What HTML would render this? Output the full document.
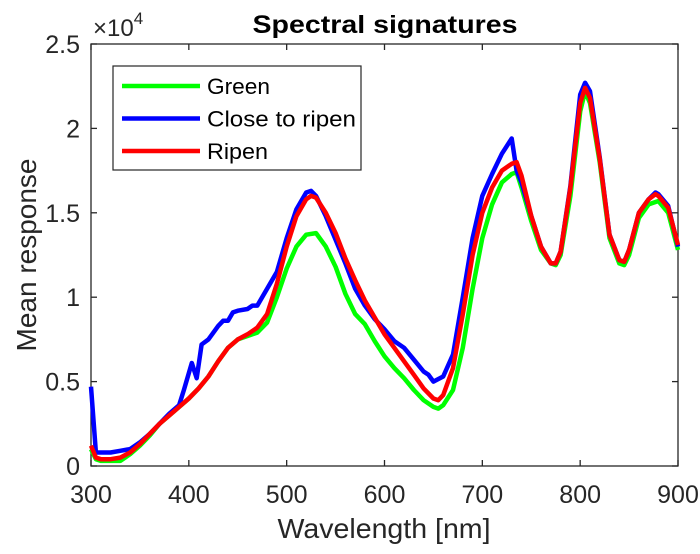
<!DOCTYPE html>
<html><head><meta charset="utf-8"><style>
body{margin:0;background:#fff;}
svg text{font-family:"Liberation Sans",Arial,sans-serif;}
</style></head><body>
<svg id="chart" width="700" height="549" viewBox="0 0 700 549" xmlns="http://www.w3.org/2000/svg"></svg>
<script>
const greenW=[300,305,310,320,330,340,350,360,370,380,390,400,410,420,430,440,450,460,470,480,490,500,510,520,530,540,550,560,570,580,590,600,610,620,630,640,650,655,660,670,680,690,700,710,720,730,735,740,750,760,770,775,780,790,800,805,810,820,830,840,845,850,860,870,880,890,900];
const greenV=[0.1,0.04,0.03,0.03,0.03,0.07,0.12,0.18,0.25,0.3,0.35,0.4,0.46,0.53,0.62,0.7,0.75,0.77,0.79,0.85,1.0,1.17,1.3,1.37,1.38,1.3,1.18,1.02,0.9,0.84,0.74,0.65,0.58,0.52,0.45,0.39,0.35,0.34,0.36,0.45,0.7,1.05,1.35,1.55,1.68,1.73,1.74,1.65,1.45,1.28,1.2,1.19,1.25,1.6,2.1,2.22,2.15,1.8,1.35,1.2,1.19,1.25,1.47,1.55,1.57,1.5,1.28];
const blueW=[300,305,310,320,330,340,350,360,370,380,390,395,400,403,408,413,420,430,435,440,445,450,460,465,470,480,490,500,510,520,525,530,540,550,560,570,580,590,600,610,620,630,640,645,650,660,670,680,690,700,710,720,730,735,740,750,760,770,775,780,790,800,805,810,820,830,840,845,850,860,870,877,880,890,900];
const blueV=[0.47,0.08,0.08,0.08,0.09,0.1,0.14,0.19,0.25,0.31,0.36,0.45,0.55,0.61,0.52,0.72,0.75,0.83,0.86,0.86,0.91,0.92,0.93,0.95,0.95,1.05,1.15,1.35,1.52,1.62,1.63,1.6,1.48,1.34,1.2,1.05,0.95,0.87,0.81,0.74,0.7,0.63,0.56,0.54,0.5,0.53,0.66,1.0,1.35,1.6,1.73,1.85,1.94,1.75,1.68,1.48,1.3,1.2,1.2,1.27,1.66,2.2,2.27,2.22,1.83,1.37,1.22,1.21,1.28,1.5,1.58,1.62,1.61,1.54,1.3];
const redW=[300,305,310,320,330,340,350,360,370,380,390,400,410,420,430,440,450,460,470,480,490,500,510,520,525,530,540,550,560,570,580,590,600,610,620,630,640,650,655,660,670,680,690,700,710,720,730,735,740,750,760,770,775,780,790,800,805,810,820,830,840,845,850,860,870,877,880,890,900];
const redV=[0.12,0.05,0.04,0.04,0.05,0.08,0.13,0.19,0.25,0.3,0.35,0.4,0.46,0.53,0.62,0.7,0.75,0.78,0.82,0.9,1.08,1.3,1.48,1.58,1.6,1.59,1.5,1.38,1.23,1.1,0.98,0.88,0.78,0.7,0.62,0.54,0.46,0.4,0.39,0.42,0.58,0.9,1.25,1.5,1.65,1.75,1.79,1.8,1.72,1.48,1.3,1.2,1.2,1.27,1.65,2.15,2.24,2.18,1.82,1.37,1.22,1.21,1.28,1.5,1.58,1.61,1.6,1.53,1.31];
const xTicks=[300,400,500,600,700,800,900];
const yTicks=[0,0.5,1,1.5,2,2.5];
const yTickLabels=["0","0.5","1","1.5","2","2.5"];

const L=91,R=678,T=44,B=466;
const xs=w=>L+(w-300)/600*(R-L);
const ys=v=>B-v/2.5*(B-T);
const NS="http://www.w3.org/2000/svg";
const svg=document.getElementById('chart');
function mk(tag,attrs,parent){const e=document.createElementNS(NS,tag);for(const k in attrs)e.setAttribute(k,attrs[k]);(parent||svg).appendChild(e);return e;}

const axes=mk('rect',{x:L,y:T,width:R-L,height:B-T,fill:'#fff',stroke:'#262626','stroke-width':1.3});



xTicks.forEach(t=>{
  const x=xs(t);
  mk('line',{x1:x,y1:B,x2:x,y2:B-6,stroke:'#262626','stroke-width':1.3});
  mk('line',{x1:x,y1:T,x2:x,y2:T+6,stroke:'#262626','stroke-width':1.3});
  const tx=mk('text',{x:x,y:B+37,'text-anchor':'middle','font-size':25,fill:'#262626'});
  tx.textContent=t;
  
  
});
yTicks.forEach((t,i)=>{
  const y=ys(t);
  mk('line',{x1:L,y1:y,x2:L+6,y2:y,stroke:'#262626','stroke-width':1.3});
  mk('line',{x1:R,y1:y,x2:R-6,y2:y,stroke:'#262626','stroke-width':1.3});
  const tx=mk('text',{x:L-11,y:y+9,'text-anchor':'end','font-size':25,fill:'#262626'});
  tx.textContent=yTickLabels[i];
  
  
});

function series(W,V,color,name){
  const d=W.map((w,i)=>(i?'L':'M')+xs(w).toFixed(1)+','+ys(V[i]).toFixed(1)).join(' ');
  const p=mk('path',{d:d,fill:'none',stroke:color,'stroke-width':4.5,'stroke-linejoin':'round'});
  
  
}
series(greenW,greenV,'#00ff00','green-series');
series(blueW,blueV,'#0000ff','close-to-ripen-series');
series(redW,redV,'#ff0000','ripen-series');

const lg=mk('g',{});


mk('rect',{x:113,y:66,width:248,height:104,fill:'#fff',stroke:'#262626','stroke-width':1.2},lg);
[['Green','#00ff00',63],['Close to ripen','#0000ff',149],['Ripen','#ff0000',61]].forEach((e,i)=>{
  const y=86+i*32.5;
  const g=mk('g',{},lg);
  
  
  mk('line',{x1:122,y1:y,x2:200,y2:y,stroke:e[1],'stroke-width':4.5},g);
  const t=mk('text',{x:207,y:y+8,'font-size':22,fill:'#000',textLength:e[2],lengthAdjust:'spacingAndGlyphs'},g);
  t.textContent=e[0];
});
</script>
<svg style="position:absolute;left:0;top:0" width="700" height="549" xmlns="http://www.w3.org/2000/svg">
<text x="385" y="33" text-anchor="middle" font-size="25" font-weight="bold" fill="#000" textLength="265" lengthAdjust="spacingAndGlyphs">Spectral signatures</text>
<text x="93" y="36" font-size="24" fill="#262626">×10<tspan dy="-12" font-size="17">4</tspan></text>
<text x="384" y="538" text-anchor="middle" font-size="28" fill="#262626" textLength="213" lengthAdjust="spacingAndGlyphs">Wavelength [nm]</text>
<text transform="translate(36,255) rotate(-90)" text-anchor="middle" font-size="28" fill="#262626">Mean response</text>
</svg>
</body></html>
